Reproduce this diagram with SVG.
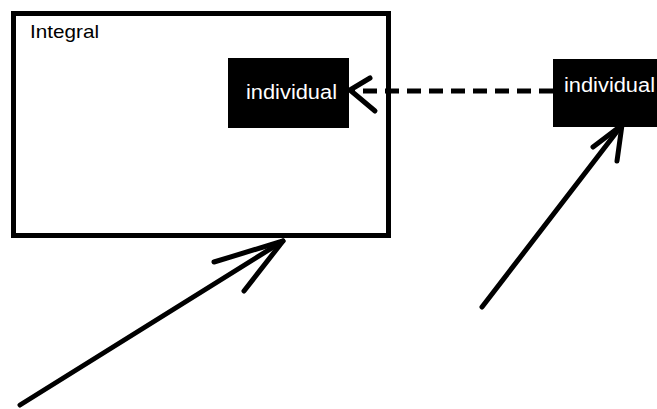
<svg xmlns="http://www.w3.org/2000/svg" width="657" height="409" viewBox="0 0 657 409">
<style>
.t{font-family:"Liberation Sans",Arial,sans-serif;font-size:20px}
.w{fill:#fff}
.ln{stroke:#000;stroke-width:5;fill:none;stroke-linecap:round;stroke-linejoin:round}
</style>
<rect width="657" height="409" fill="#fff"/>
<g id="integral">
<rect x="13.5" y="13.5" width="375" height="222" fill="#fff" stroke="#000" stroke-width="5"/>
<text class="t" x="30" y="38" textLength="69" lengthAdjust="spacingAndGlyphs" style="font-size:19px">Integral</text>
</g>
<g id="individual-inner">
<rect x="228" y="58" width="121" height="70" fill="#000"/>
<text class="t w" x="246" y="99" textLength="91" lengthAdjust="spacingAndGlyphs">individual</text>
</g>
<g id="individual-outer">
<rect x="553" y="59" width="104" height="68" fill="#000"/>
<text class="t w" x="564" y="92" textLength="91" lengthAdjust="spacingAndGlyphs">individual</text>
</g>
<g id="connectors">
<line x1="553" y1="91" x2="352" y2="91" stroke="#000" stroke-width="5" stroke-dasharray="14 8"/>
<polyline class="ln" points="370,78 350,90 375,111"/>
<line class="ln" x1="20" y1="405" x2="283" y2="241"/>
<polyline class="ln" points="214,262 283,241 244,291"/>
<line class="ln" x1="482" y1="307" x2="622" y2="125"/>
<polyline class="ln" points="593,147 622,125 617,161"/>
</g>
</svg>
